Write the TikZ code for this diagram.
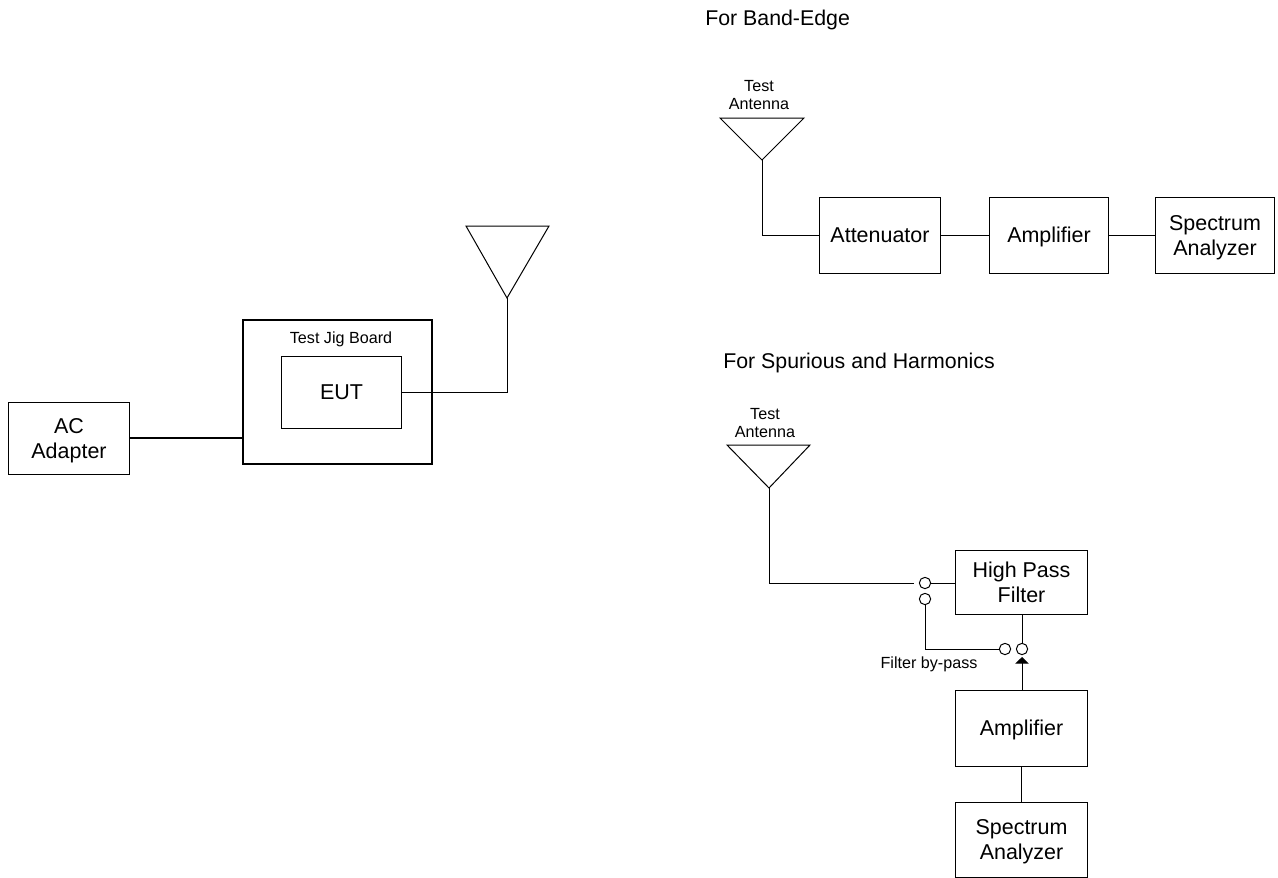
\documentclass[tikz,border=0pt]{standalone}
\usepackage{fontspec}
\setmainfont{Liberation Sans}
\usetikzlibrary{arrows.meta}
\begin{document}
\begin{tikzpicture}[x=0.75pt,y=-0.75pt,
  wire/.style={draw=black,line width=0.75pt},
  thick wire/.style={draw=black,line width=1.5pt},
  box/.style={draw=black,line width=0.75pt,fill=white,align=center,inner sep=0pt,anchor=north west,font=\fontsize{16.1}{18.8}\selectfont},
  title/.style={anchor=west,inner sep=0pt,font=\fontsize{16}{18}\selectfont},
  small/.style={align=center,inner sep=0pt,font=\fontsize{12.1}{13.5}\selectfont},
  contact/.style={circle,draw=black,line width=0.75pt,fill=white,minimum size=8.5pt,inner sep=0pt}]
\useasboundingbox (0,0) rectangle (1278,878);
\newcommand{\mybox}[6]{\node[box,minimum width=#4*0.75pt,minimum height=#5*0.75pt] (#1) at (#2,#3) {\rule{0pt}{16.5pt}#6\strut};}
% left part
\node[box,line width=1.5pt,minimum width=189*0.75pt,minimum height=144*0.75pt] (jig) at (241.5,319) {};
\node[small] (jigt) at (341,339.5) {Test Jig Board};
\mybox{eut}{281}{356}{120}{72}{EUT}
\mybox{ac}{8}{402}{121}{72}{AC\\Adapter}
\coordinate (a1a) at (466,226); \coordinate (a1b) at (549,226); \coordinate (a1c) at (507,298);
\draw[wire] (a1a) -- (a1b) -- (a1c) -- cycle;
\draw[wire] (a1c) |- (eut.east);
\draw[thick wire] (ac.east |- 0,438) -- (jig.west |- 0,438);
% band edge
\node[title] (t1) at (705,19.5) {For Band-Edge};
\node[small] (ta1) at (759,95.5) {Test\\Antenna};
\coordinate (a2a) at (720,118); \coordinate (a2b) at (804,118); \coordinate (a2c) at (762,160);
\draw[wire] (a2a) -- (a2b) -- (a2c) -- cycle;
\mybox{att}{819}{197}{121}{76}{Attenuator}
\mybox{amp1}{989}{197}{119}{76}{Amplifier}
\mybox{sa1}{1155}{197}{119}{76}{Spectrum\\Analyzer}
\draw[wire] (a2c) |- (att.west);
\draw[wire] (att) -- (amp1);
\draw[wire] (amp1) -- (sa1);
% spurious
\node[title] (t2) at (723,362.5) {For Spurious and Harmonics};
\node[small] (ta2) at (765,423) {Test\\Antenna};
\coordinate (a3a) at (727,445); \coordinate (a3b) at (810,445); \coordinate (a3c) at (769,488);
\draw[wire] (a3a) -- (a3b) -- (a3c) -- cycle;
\mybox{hpf}{955}{550}{132}{64}{High Pass\\Filter}
\mybox{amp2}{955}{690}{132}{76}{Amplifier}
\mybox{sa2}{955}{802}{132}{75}{Spectrum\\Analyzer}
\node[contact] (c1) at (925,583) {};
\node[contact] (c2) at (925,599) {};
\node[contact] (c3) at (1005,649) {};
\node[contact] (c4) at (1022,649) {};
\coordinate (gap) at (914,583);
\coordinate (tip) at (1022,657);
\draw[wire] (a3c) |- (gap);
\draw[wire] (c1.east) -- (c1.east -| hpf.west);
\draw[wire] (c2.south) |- (c3.west);
\draw[wire] (hpf.south -| c4) -- (c4.north);
\draw[wire,-{Triangle[length=5pt,width=10pt]}] (amp2.north -| c4) -- (tip);
\draw[wire] (amp2) -- (sa2);
\node[small] (fb) at (929,664) {Filter by-pass};
\end{tikzpicture}
\end{document}
